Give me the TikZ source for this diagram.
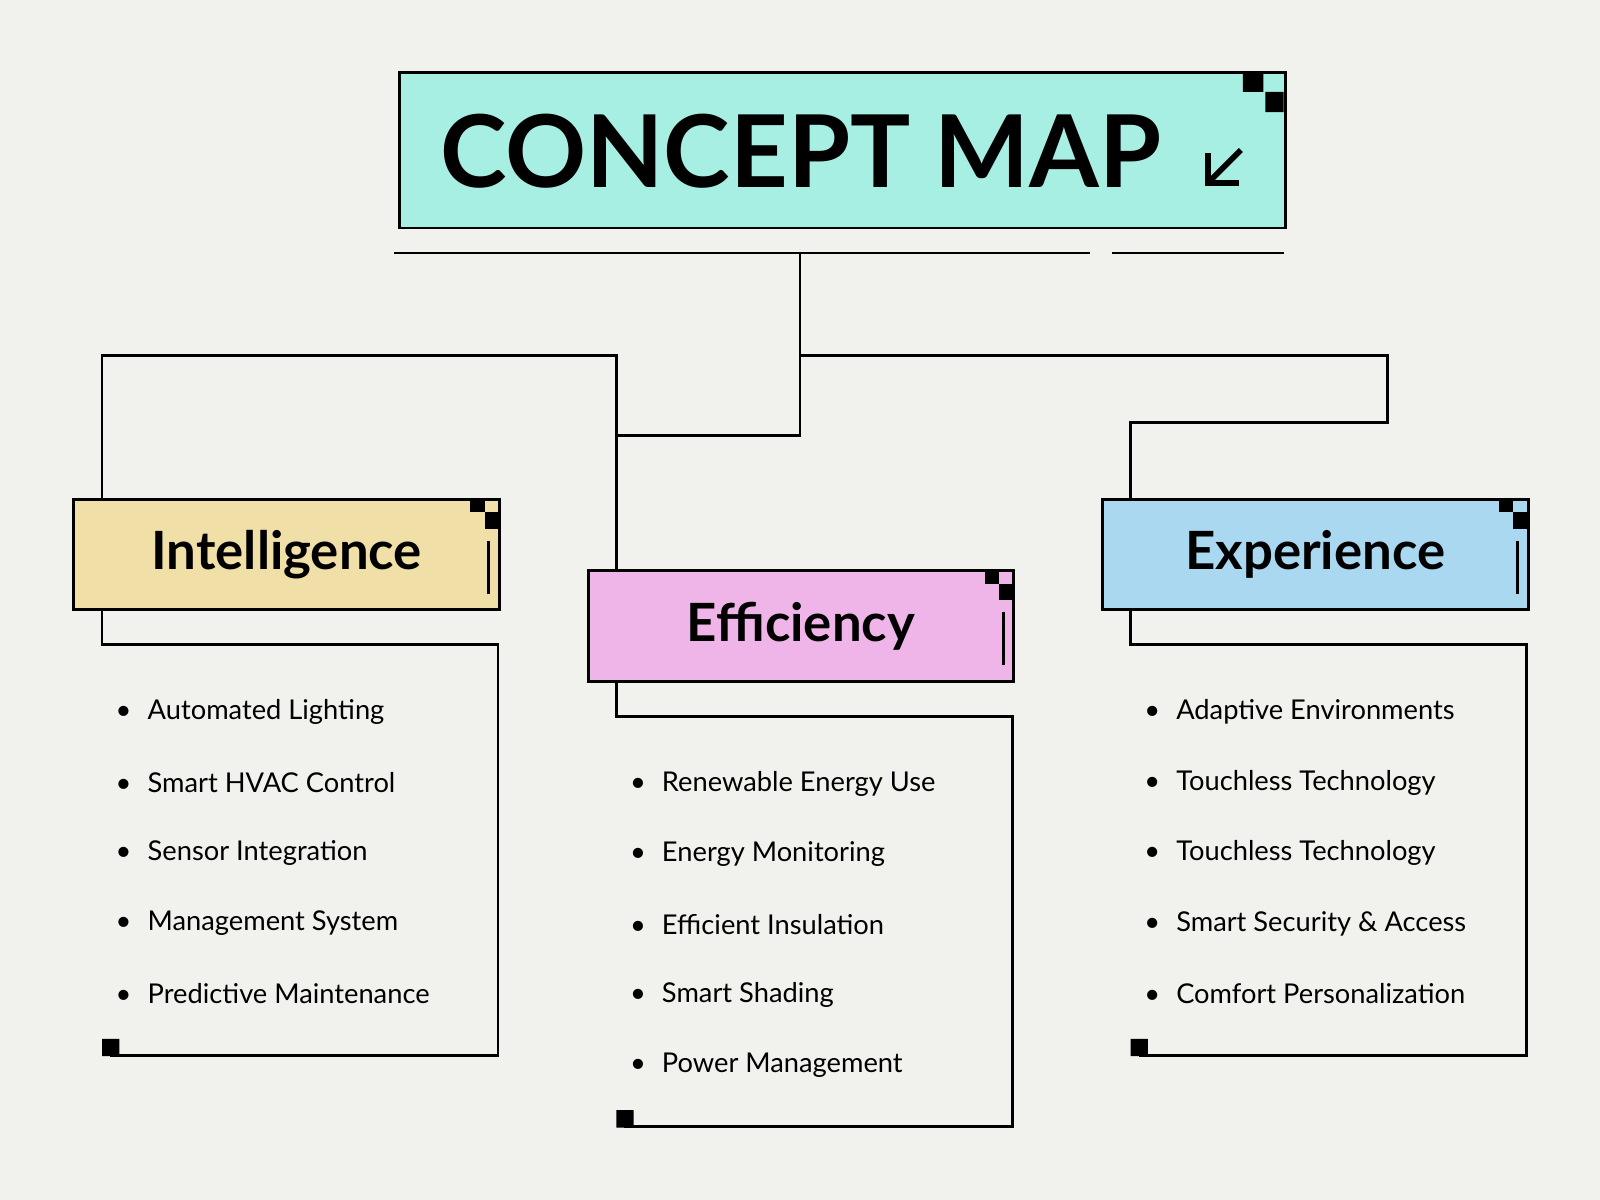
\documentclass[tikz,border=0pt]{standalone}
\usepackage{fontspec}
\setmainfont{Lato}
\usepackage{tikz}
\usetikzlibrary{positioning}
\definecolor{paper}{HTML}{F1F1EE}
\definecolor{mint}{HTML}{A8EFE3}
\definecolor{sand}{HTML}{F0DFA6}
\definecolor{pink}{HTML}{F0B5E8}
\definecolor{sky}{HTML}{A9D8F0}
\tikzset{
	box/.style={draw=black, line width=0.8pt, anchor=north west, inner sep=0},
	wire/.style={draw=black, line width=0.8pt},
	item/.style={anchor=west, font=\fontsize{7.6}{9}\selectfont},
	head/.style={font=\fontsize{14.7}{17}\selectfont\bfseries},
}
\begin{document}
\begin{tikzpicture}[x=0.01cm, y=-0.01cm]
	\fill[paper] (0,0) rectangle (1568,1176);
	\useasboundingbox (0,0) rectangle (1568,1176);
	% title
	\node[box, fill=mint, minimum width=8.68cm, minimum height=1.52cm] (title) at (390,70) {};
	\node[font=\fontsize{28}{30}\selectfont\bfseries] (title text) at (785,148) {CONCEPT MAP};
	\coordinate (arrow tip) at (1184,179);
	\draw[line width=1.6pt] (1216,147) -- (arrow tip);
	\draw[line width=1.6pt] (1184,150) -- (arrow tip) -- (1214,179);
	\fill (1218,72) rectangle (1238,90) (1240,90) rectangle (1258,110);
	\coordinate (rule a) at (386,248); \coordinate (rule b) at (1068,248);
	\coordinate (rule c) at (1090,248); \coordinate (rule d) at (1258,248);
	\draw[wire] (rule a) -- (rule b) (rule c) -- (rule d);
	% branches
	\node[box, fill=sand, minimum width=4.17cm, minimum height=1.08cm] (intel) at (71,488) {};
	\node[box, fill=pink, minimum width=4.17cm, minimum height=1.08cm] (effi) at (575,558) {};
	\node[box, fill=sky, minimum width=4.17cm, minimum height=1.08cm] (expe) at (1079,488) {};
	\node[head] at (intel.center) {Intelligence};
	\node[head] at (effi.center) {Efficiency};
	\node[head] at (expe.center) {Experience};
	\foreach \b in {intel, effi, expe} {
		\fill ([shift={(-30,1)}]\b.north east) rectangle ([shift={(-16,14)}]\b.north east);
		\fill ([shift={(-16,14)}]\b.north east) rectangle ([shift={(-2,30)}]\b.north east);
		\draw[line width=0.9pt] ([shift={(-12,42)}]\b.north east) -- ([shift={(-12,94)}]\b.north east);
	}
	\draw[wire] (784,248) -- (784,427) -- (604,427);
	\draw[wire] (100,488) -- (100,348) -- (604,348) -- (effi.north west -| 604,0);
	\draw[wire] (784,348) -- (1360,348) -- (1360,414) -- (1108,414) -- (expe.north west -| 1108,0);
	% lists
	\draw[wire] (intel.south west -| 100,0) -- (100,632) -- (488,632) -- (488,1034) -- (108,1034);
	\draw[wire] (effi.south west -| 604,0) -- (604,702) -- (992,702) -- (992,1104) -- (612,1104);
	\draw[wire] (expe.south west -| 1108,0) -- (1108,632) -- (1496,632) -- (1496,1034) -- (1116,1034);
	\fill (100,1018) rectangle (117,1035) (604,1088) rectangle (621,1105) (1108,1018) rectangle (1125,1035);
	\foreach \t [count=\i] in {Automated Lighting, Smart HVAC Control, Sensor Integration, Management System, Predictive Maintenance}
		\node[item] at (101,629+69*\i) {\textbullet\hspace{4.5pt}\t};
	\foreach \t [count=\i] in {Renewable Energy Use, Energy Monitoring, Efficient Insulation, Smart Shading, Power Management}
		\node[item] at (605,699+69*\i) {\textbullet\hspace{4.5pt}\t};
	\foreach \t [count=\i] in {Adaptive Environments, Touchless Technology, Touchless Technology, Smart Security \& Access, Comfort Personalization}
		\node[item] at (1109,629+69*\i) {\textbullet\hspace{4.5pt}\t};
\end{tikzpicture}
\end{document}
